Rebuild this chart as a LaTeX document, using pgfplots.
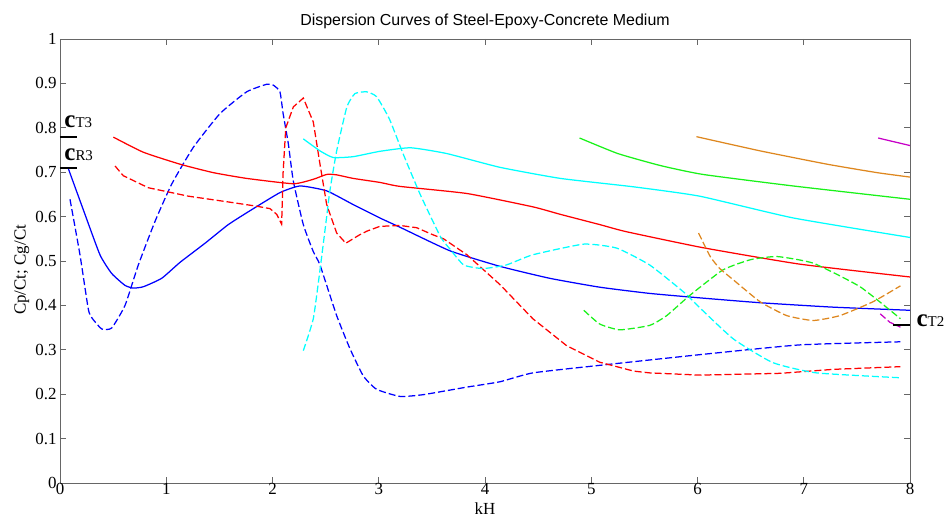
\documentclass[border=0pt]{standalone}
\usepackage{fontspec}
\setmainfont{Liberation Serif}
\newfontfamily\arialfont{Liberation Sans}
\usepackage{pgfplots}
\pgfplotsset{compat=1.18}
\definecolor{mblue}{rgb}{0,0,1}
\definecolor{mred}{rgb}{1,0,0}
\definecolor{mcyan}{rgb}{0,1,1}
\definecolor{mgreen}{rgb}{0.1,0.95,0.1}
\definecolor{morange}{rgb}{0.87,0.53,0.12}
\definecolor{mmag}{rgb}{0.78,0,0.78}
\definecolor{axgray}{rgb}{0.4,0.4,0.4}
\begin{document}
\begin{tikzpicture}[x=1bp,y=1bp]
\begin{axis}[
 at={(0,0)}, anchor=south west,
 scale only axis, width=850bp, height=444bp,
 xmin=0, xmax=8, ymin=0, ymax=1,
 xtick={0,1,2,3,4,5,6,7,8},
 xticklabels={0,1,2,3,4,5,6,7,8},
 ytick={0,0.1,0.2,0.3,0.4,0.5,0.6,0.7,0.8,0.9,1},
 yticklabels={0,0.1,0.2,0.3,0.4,0.5,0.6,0.7,0.8,0.9,1},
 tick align=inside, major tick length=6bp,
 axis line style={axgray, line width=0.8bp},
 tick style={axgray, line width=0.7bp},
 font=\rmfamily\fontsize{17}{20}\selectfont,
 ticklabel style={font=\rmfamily\fontsize{17}{20}\selectfont},
 xticklabel style={yshift=3bp},
 /pgf/number format/assume math mode=true,
 title={\arialfont\fontsize{16}{19}\selectfont Dispersion Curves of Steel-Epoxy-Concrete Medium},
 title style={yshift=1bp},
 xlabel={kH},
 ylabel={Cp/Ct; Cg/Ct},
 xlabel style={at={(axis description cs:0.5,-0.058)}, anchor=center},
 ylabel style={at={(axis description cs:-0.045,0.48)}, anchor=center},
 clip=false,
 every axis plot/.append style={line width=1.25bp},
 dsh/.style={dash pattern=on 7bp off 3bp},
]
% blue solid
\addplot[mblue, smooth, tension=0.3] coordinates {(0.08,0.707) (0.22,0.615) (0.376,0.514) (0.486,0.472) (0.612,0.445) (0.69,0.439) (0.784,0.442) (0.957,0.461) (1.13,0.497) (1.365,0.540) (1.584,0.582) (1.80,0.615) (2.07,0.654) (2.26,0.669) (2.51,0.658) (2.76,0.627) (3.01,0.597) (3.2,0.576) (3.67,0.523) (4.14,0.488) (4.61,0.461) (5.08,0.441) (5.55,0.427) (6.02,0.417) (6.59,0.406) (7.28,0.396) (8.0,0.389)};
% blue dashed
\addplot[mblue, dsh, smooth, tension=0.3] coordinates {(0.094,0.639) (0.188,0.514) (0.266,0.392) (0.30,0.372) (0.392,0.347) (0.486,0.349) (0.612,0.40) (0.737,0.491) (0.894,0.589) (1.051,0.673) (1.255,0.756) (1.506,0.832) (1.757,0.881) (1.945,0.898) (2.008,0.896) (2.07,0.881) (2.10,0.832) (2.149,0.764) (2.196,0.68) (2.29,0.582) (2.384,0.521) (2.447,0.491) (2.604,0.377) (2.73,0.302) (2.855,0.241) (2.98,0.211) (3.2,0.195) (3.42,0.199) (3.83,0.216) (4.14,0.228) (4.45,0.248) (5.08,0.265) (6.02,0.289) (6.96,0.311) (7.91,0.318)};
% red solid
\addplot[mred, smooth, tension=0.3] coordinates {(0.502,0.779) (0.784,0.745) (1.13,0.718) (1.443,0.699) (1.757,0.686) (2.196,0.674) (2.384,0.684) (2.51,0.695) (2.604,0.694) (2.76,0.686) (3.01,0.677) (3.2,0.668) (3.83,0.652) (4.45,0.622) (4.71,0.605) (5.08,0.582) (5.33,0.566) (6.05,0.530) (6.96,0.493) (8.0,0.464)};
% red dashed
\addplot[mred, dsh] coordinates {(0.518,0.714) (0.596,0.692) (0.831,0.665) (1.208,0.646) (1.584,0.633) (1.835,0.624) (1.976,0.618) (2.04,0.605) (2.086,0.583) (2.10,0.70) (2.125,0.80) (2.196,0.847) (2.29,0.867) (2.384,0.813) (2.447,0.718) (2.51,0.627) (2.604,0.563) (2.69,0.540) (2.82,0.559) (2.886,0.567) (3.01,0.578) (3.2,0.580) (3.357,0.575) (3.51,0.559) (3.61,0.550) (3.83,0.514) (4.14,0.447) (4.45,0.370) (4.77,0.309) (5.08,0.272) (5.40,0.252) (5.55,0.248) (6.02,0.243) (6.78,0.247) (7.28,0.256) (7.91,0.262)};
% cyan solid
\addplot[mcyan, smooth, tension=0.3] coordinates {(2.29,0.775) (2.447,0.748) (2.572,0.733) (2.76,0.735) (3.01,0.747) (3.3,0.755) (3.64,0.742) (4.14,0.711) (4.71,0.686) (5.40,0.667) (6.02,0.646) (6.90,0.597) (8.0,0.553)};
% cyan dashed
\addplot[mcyan, dsh, smooth, tension=0.3] coordinates {(2.29,0.298) (2.384,0.37) (2.447,0.48) (2.51,0.60) (2.54,0.658) (2.604,0.748) (2.70,0.847) (2.776,0.877) (2.886,0.881) (2.98,0.870) (3.1,0.82) (3.23,0.741) (3.39,0.65) (3.58,0.555) (3.67,0.527) (3.8,0.491) (3.98,0.483) (4.2,0.491) (4.45,0.514) (4.93,0.538) (5.24,0.529) (5.55,0.491) (5.87,0.430) (6.02,0.395) (6.34,0.324) (6.71,0.271) (7.12,0.248) (7.91,0.237)};
% green solid
\addplot[mgreen, smooth, tension=0.3] coordinates {(4.89,0.777) (5.25,0.742) (5.65,0.715) (6.05,0.695) (6.90,0.669) (8.0,0.639)};
% green dashed
\addplot[mgreen, dsh, smooth, tension=0.3] coordinates {(4.93,0.389) (5.08,0.358) (5.27,0.345) (5.55,0.355) (5.71,0.377) (5.93,0.423) (6.24,0.48) (6.5,0.503) (6.75,0.51) (7.09,0.495) (7.53,0.442) (7.91,0.370)};
% orange solid
\addplot[morange, smooth, tension=0.3] coordinates {(5.99,0.780) (6.59,0.748) (7.22,0.718) (7.69,0.699) (8.0,0.689)};
% orange dashed
\addplot[morange, dsh, smooth, tension=0.3] coordinates {(6.01,0.563) (6.12,0.51) (6.21,0.483) (6.34,0.457) (6.59,0.408) (6.84,0.377) (7.09,0.366) (7.34,0.377) (7.65,0.408) (7.91,0.444)};
% magenta
\addplot[mmag] coordinates {(7.70,0.777) (8.0,0.760)};
\addplot[mmag, dsh] coordinates {(7.72,0.381) (7.81,0.362) (7.91,0.351)};
% reference bars
\addplot[black, line width=2.2bp] coordinates {(0,0.78) (0.16,0.78)};
\addplot[black, line width=2.2bp] coordinates {(0,0.71) (0.16,0.71)};
\addplot[black, line width=2.2bp] coordinates {(7.84,0.355) (8,0.355)};
\node[anchor=base west, inner sep=0pt] at (axis cs:0.04,0.80) {{\fontsize{25}{25}\selectfont\bfseries c}{\fontsize{15}{15}\selectfont T3}};
\node[anchor=base west, inner sep=0pt] at (axis cs:0.04,0.727) {{\fontsize{25}{25}\selectfont\bfseries c}{\fontsize{15}{15}\selectfont R3}};
\node[anchor=base west, inner sep=0pt] at (axis cs:8.06,0.353) {{\fontsize{25}{25}\selectfont\bfseries c}{\fontsize{15}{15}\selectfont T2}};
\end{axis}
\pgfresetboundingbox
\path[use as bounding box] (-60bp,-35bp) rectangle (887bp,483bp);
\end{tikzpicture}
\end{document}
